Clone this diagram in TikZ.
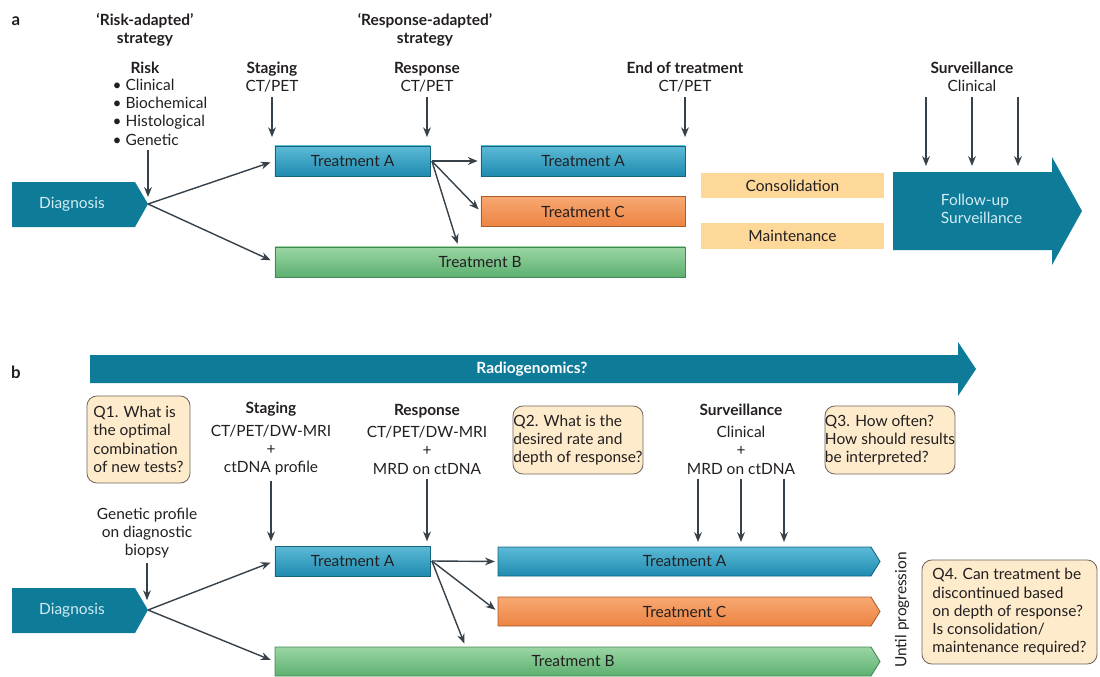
\documentclass[tikz,border=0pt]{standalone}
\usepackage{fontspec}
\setmainfont{Lato}
\usepackage{tikz}
\usetikzlibrary{arrows.meta,positioning,calc}

\definecolor{txt}{HTML}{231F20}
\definecolor{arrc}{HTML}{36414A}
\definecolor{tealdk}{HTML}{0E7B98}
\definecolor{tealtxt}{HTML}{D2ECF4}
\definecolor{tAtop}{HTML}{5CBAD6}
\definecolor{tAbot}{HTML}{1F8BB0}
\definecolor{tAline}{HTML}{17647F}
\definecolor{tCtop}{HTML}{F8A872}
\definecolor{tCbot}{HTML}{EC8442}
\definecolor{tCline}{HTML}{A95D2C}
\definecolor{tBtop}{HTML}{9AD6A4}
\definecolor{tBbot}{HTML}{5DB070}
\definecolor{tBline}{HTML}{438752}
\definecolor{consol}{HTML}{FDD899}
\definecolor{qfill}{HTML}{FDEBCC}
\definecolor{qline}{HTML}{6E665B}

\begin{document}
\begin{tikzpicture}[x=0.025cm,y=-0.025cm,
    every node/.style={font=\fontsize{11}{13}\selectfont, text=txt},
    arr/.style={-{Stealth[length=7pt,width=5.5pt]}, line width=1pt, draw=arrc},
    lbl/.style={align=center},
    fillA/.style={draw=tAline, line width=0.6pt, top color=tAtop, bottom color=tAbot},
    fillC/.style={draw=tCline, line width=0.6pt, top color=tCtop, bottom color=tCbot},
    fillB/.style={draw=tBline, line width=0.6pt, top color=tBtop, bottom color=tBbot},
    bar/.style={minimum height=0.75cm, inner sep=0pt},
    phase/.style={fill=consol, minimum width=4.575cm, minimum height=0.625cm, inner sep=0pt},
    qbox/.style={draw=qline, fill=qfill, line width=0.6pt, rounded corners=7pt, align=left, inner sep=0pt},
  ]
  \useasboundingbox (0,0) rectangle (1100,677);

  % ---------------- panel a ----------------
  \node[font=\fontsize{12}{14}\selectfont\bfseries] (pa) at (16,21) {a};
  \node[lbl, font=\fontsize{11}{13}\selectfont\bfseries] (riskstrat) at (145,30) {‘Risk-adapted’\\strategy};
  \node[lbl, font=\fontsize{11}{13}\selectfont\bfseries] (respstrat) at (425,30) {‘Response-adapted’\\strategy};

  \node[font=\fontsize{11}{13}\selectfont\bfseries] (riskT) at (145,68) {Risk};
  \node[align=left] (riskL) at (160,112) {\textbullet\ Clinical\\\textbullet\ Biochemical\\\textbullet\ Histological\\\textbullet\ Genetic};
  \node[lbl] (stgA) at (272,77) {\textbf{Staging}\\CT/PET};
  \node[lbl] (rspA) at (427,77) {\textbf{Response}\\CT/PET};
  \node[lbl] (endA) at (685,77) {\textbf{End of treatment}\\CT/PET};
  \node[lbl] (survA) at (972,77) {\textbf{Surveillance}\\Clinical};

  % diagnosis
  \fill[tealdk] (12,182) -- (135,182) -- (148,204) -- (135,227) -- (12,227) -- cycle;
  \node[text=tealtxt] (diagA) at (72,204) {Diagnosis};
  \coordinate (tipA) at (148,204);

  % treatments
  \node[bar, fillA, minimum width=3.875cm] (tA1) at (352.5,161) {Treatment A};
  \node[bar, fillA, minimum width=5.1cm] (tA2) at (583,161) {Treatment A};
  \node[bar, fillC, minimum width=5.1cm] (tC1) at (583,211.5) {Treatment C};
  \node[bar, fillB, minimum width=10.25cm] (tB1) at (480,262) {Treatment B};

  \node[phase] (consA) at (792.5,185.5) {Consolidation};
  \node[phase] (maintA) at (792.5,236) {Maintenance};

  % follow-up arrow
  \fill[tealdk] (893,172) -- (1052,172) -- (1052,157) -- (1082,211) -- (1052,265) -- (1052,250) -- (893,250) -- cycle;
  \node[align=left, anchor=west, text=tealtxt] (fup) at (936,209) {Follow-up\\Surveillance};
  \coordinate (fupTop) at (972,166);

  % connectors a
  \draw[arr, shorten >=5pt] (riskL.south -| tipA) -- (tipA);
  \draw[arr, shorten >=6pt] (stgA.south) -- (stgA.south |- tA1.north);
  \draw[arr, shorten >=6pt] (rspA.south) -- (rspA.south |- tA1.north);
  \draw[arr, shorten >=6pt] (endA.south) -- (endA.south |- tA2.north);
  \foreach \dx in {-46,0,46}
    \draw[arr] ($(survA.south)+(\dx,0)$) -- ($(fupTop)+(\dx,0)$);
  \draw[arr, shorten >=3pt] (tipA) -- (tA1.west);
  \draw[arr, shorten >=3pt] (tipA) -- (tB1.west);
  \draw[arr, shorten >=2pt] ([xshift=1pt]tA1.east) -- (tA2.west);
  \draw[arr, shorten >=2pt] ([xshift=1pt]tA1.east) -- (tC1.west);
  \draw[arr, shorten >=2pt] ([xshift=1pt]tA1.east) -- ([xshift=0.7cm]tA1.east |- tB1.north);

  % ---------------- panel b ----------------
  \node[font=\fontsize{12}{14}\selectfont\bfseries] (pb) at (16,372) {b};
  \fill[tealdk] (90,355) -- (958,355) -- (958,342) -- (976,369) -- (958,396) -- (958,383) -- (90,383) -- cycle;
  \node[text=white, font=\fontsize{11}{13}\selectfont\bfseries] (radio) at (532,369) {Radiogenomics?};

  \node[qbox, minimum width=2.575cm, minimum height=2.175cm] (q1) at (138.5,439.5) {Q1. What is\\the optimal\\combination\\of new tests?};
  \node[qbox, minimum width=3.25cm, minimum height=1.7cm] (q2) at (578,440) {Q2. What is the\\desired rate and\\depth of response?};
  \node[qbox, minimum width=3.25cm, minimum height=1.7cm] (q3) at (890,440) {Q3. How often?\\How should results\\be interpreted?};
  \node[qbox, minimum width=4.375cm, minimum height=2.6cm] (q4) at (1009.5,612) {Q4. Can treatment be\\discontinued based\\on depth of response?\\Is consolidation/\\maintenance required?};

  \node[lbl] (stgB) at (271,439) {\textbf{Staging}\\[3pt]CT/PET/DW-MRI\\+\\ctDNA profile};
  \node[lbl] (rspB) at (427,439) {\textbf{Response}\\[3pt]CT/PET/DW-MRI\\+\\MRD on ctDNA};
  \node[lbl] (survB) at (741,439) {\textbf{Surveillance}\\[3pt]Clinical\\+\\MRD on ctDNA};
  \node[lbl] (genB) at (147,533) {Genetic profile\\on diagnostic\\biopsy};

  % diagnosis
  \fill[tealdk] (12,588) -- (135,588) -- (148,610) -- (135,633) -- (12,633) -- cycle;
  \node[text=tealtxt] (diagB) at (72,610) {Diagnosis};
  \coordinate (tipB) at (148,610);

  % treatments
  \path[fillA] (498,547) -- (871,547) -- (880,561.5) -- (871,576) -- (498,576) -- cycle;
  \path[fillC] (498,597) -- (871,597) -- (880,611.5) -- (871,626) -- (498,626) -- cycle;
  \path[fillB] (275,647) -- (871,647) -- (880,661.5) -- (871,676) -- (275,676) -- cycle;
  \node[bar, fillA, minimum width=3.875cm] (tA3) at (352.5,561) {Treatment A};
  \node[bar, minimum width=9.325cm] (tA4) at (684.5,561.5) {Treatment A};
  \node[bar, minimum width=9.325cm] (tC2) at (684.5,611.5) {Treatment C};
  \node[bar, minimum width=14.9cm] (tB2) at (573,661.5) {Treatment B};
  \node[rotate=90] (until) at (902,610) {Until progression};

  % connectors b
  \draw[arr, shorten >=7pt] (genB.south) -- (genB.south |- tipB);
  \draw[arr, shorten >=3pt] (stgB.south) -- (stgB.south |- tA3.north);
  \draw[arr, shorten >=3pt] (rspB.south) -- (rspB.south |- tA3.north);
  \foreach \dx in {-43,0,43}
    \draw[arr, shorten >=3pt] ($(survB.south)+(\dx,0)$) -- ($(survB.south |- tA4.north)+(\dx,0)$);
  \draw[arr, shorten >=3pt] (tipB) -- (tA3.west);
  \draw[arr, shorten >=3pt] (tipB) -- (tB2.west);
  \draw[arr, shorten >=2pt] ([xshift=1pt]tA3.east) -- (tA4.west);
  \draw[arr, shorten >=2pt] ([xshift=1pt]tA3.east) -- (tC2.west);
  \draw[arr, shorten >=2pt] ([xshift=1pt]tA3.east) -- ([xshift=0.875cm]tA3.east |- tB2.north);
\end{tikzpicture}
\end{document}
